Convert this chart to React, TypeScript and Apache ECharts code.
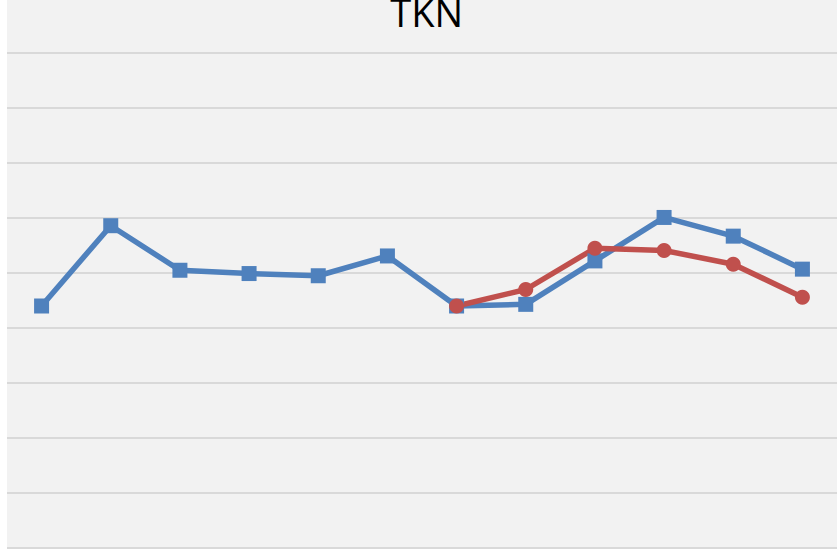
import React, { useEffect, useRef } from "react";
import * as echarts from "echarts";

const categories = ["1", "2", "3", "4", "5", "6", "7", "8", "9", "10", "11", "12"];
const seriesBlue = [4.4, 5.86, 5.05, 4.99, 4.95, 5.31, 4.4, 4.43, 5.22, 6.01, 5.67, 5.07];
const seriesRed: (number | null)[] = [null, null, null, null, null, null, 4.4, 4.7, 5.45, 5.41, 5.16, 4.56];
const yTicks = [0, 1, 2, 3, 4, 5, 6, 7, 8, 9];
const titleText = "TKN";

export default function App() {
  const ref = useRef<HTMLDivElement>(null);
  useEffect(() => {
    document.body.style.margin = "0";
    if (!ref.current) return;
    const chart = echarts.init(ref.current, undefined, { renderer: "svg" });
    chart.setOption({
      animation: false,
      backgroundColor: "#f2f2f2",
      graphic: [
        {
          type: "text",
          x: 419.7,
          y: 12,
          style: {
            text: titleText,
            font: '38px "Open Sans"',
            fill: "#000000",
            textAlign: "center",
            textVerticalAlign: "middle",
          },
        },
      ],
      grid: { left: 0, width: 832, top: 53, bottom: 1, containLabel: false },
      xAxis: {
        type: "category",
        data: categories,
        boundaryGap: true,
        axisLine: { show: false },
        axisTick: { show: false },
        axisLabel: { show: false },
      },
      yAxis: {
        type: "value",
        min: yTicks[0],
        max: yTicks[yTicks.length - 1],
        interval: 1,
        axisLine: { show: false },
        axisTick: { show: false },
        axisLabel: { show: false },
        splitLine: { show: true, lineStyle: { color: "#d9d9d9", width: 2 } },
      },
      series: [
        {
          type: "line",
          data: seriesBlue,
          symbol: "rect",
          symbolSize: 15,
          itemStyle: { color: "#4f81bd" },
          lineStyle: { color: "#4f81bd", width: 5.5 },
        },
        {
          type: "line",
          data: seriesRed,
          symbol: "circle",
          symbolSize: 15,
          itemStyle: { color: "#c0504d" },
          lineStyle: { color: "#c0504d", width: 5.5 },
        },
      ],
    });
    return () => chart.dispose();
  }, []);
  return (
    <div style={{ position: "absolute", left: 0, top: 0, width: 837, height: 549, background: "#ffffff" }}>
      <div ref={ref} style={{ position: "absolute", left: 7, top: 0, width: 830, height: 549 }} />
    </div>
  );
}
